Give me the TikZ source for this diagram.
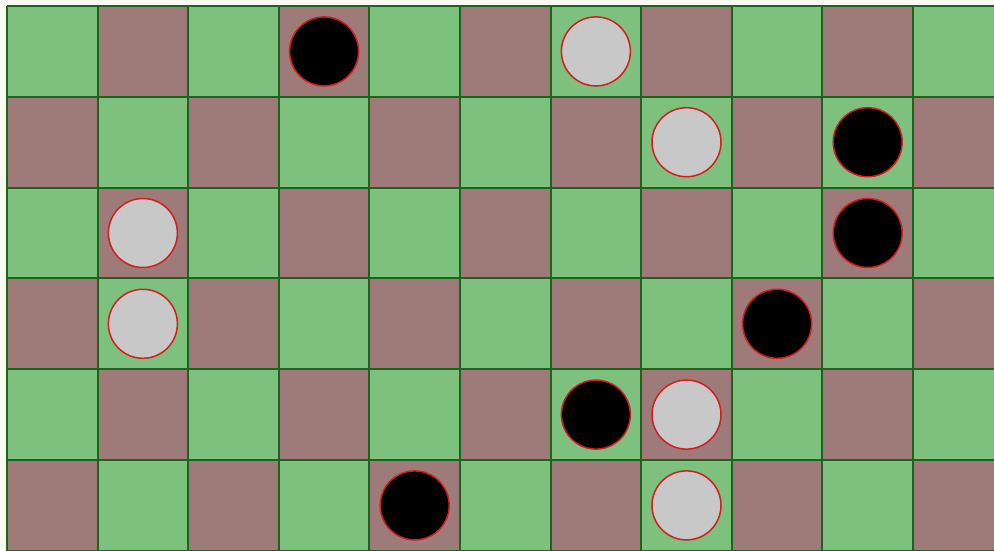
\documentclass[tikz,border=0pt]{standalone}
\definecolor{cellg}{RGB}{126,192,126}
\definecolor{cellb}{RGB}{158,122,120}
\definecolor{gridc}{RGB}{28,100,28}
\definecolor{bgc}{RGB}{250,250,242}
\definecolor{pgray}{RGB}{200,200,200}
\definecolor{pred}{RGB}{210,30,30}
\tikzset{
  blackpiece/.style={circle,fill=black,draw=pred,line width=1.5pt,minimum size=69pt,inner sep=0pt},
  graypiece/.style={circle,fill=pgray,draw=pred,line width=1.5pt,minimum size=69pt,inner sep=0pt},
  gridline/.style={draw=gridc,line width=2pt}
}
\begin{document}
\begin{tikzpicture}[x=1pt,y=-1pt]
\useasboundingbox (0,0) rectangle (994,550);
\fill[bgc] (0,0) rectangle (994,550);
\begin{scope}
\clip (0,0) rectangle (994,550);
\foreach \c in {0,...,10}{
  \foreach \r in {0,...,5}{
    \pgfmathtruncatemacro{\p}{mod(\c+\r,2)}
    \ifnum\p=0
      \fill[cellg] ({7+90.6*\c},{6+90.8*\r}) rectangle ++(90.6,90.8);
    \else
      \fill[cellb] ({7+90.6*\c},{6+90.8*\r}) rectangle ++(90.6,90.8);
    \fi
  }
}
\foreach \c in {0,...,11}{
  \draw[gridline] ({7+90.6*\c},6) -- ({7+90.6*\c},560);
}
\foreach \r in {0,...,6}{
  \draw[gridline] (7,{6+90.8*\r}) -- (1000,{6+90.8*\r});
}
\end{scope}
\newcommand{\cx}[1]{7+90.6*#1+45.3}
\newcommand{\cy}[1]{6+90.8*#1+45.4}
\node[blackpiece] (b1) at ({\cx{3}},{\cy{0}}) {};
\node[graypiece] (g1) at ({\cx{6}},{\cy{0}}) {};
\node[graypiece] (g2) at ({\cx{7}},{\cy{1}}) {};
\node[blackpiece] (b2) at ({\cx{9}},{\cy{1}}) {};
\node[graypiece] (g3) at ({\cx{1}},{\cy{2}}) {};
\node[blackpiece] (b3) at ({\cx{9}},{\cy{2}}) {};
\node[graypiece] (g4) at ({\cx{1}},{\cy{3}}) {};
\node[blackpiece] (b4) at ({\cx{8}},{\cy{3}}) {};
\node[blackpiece] (b5) at ({\cx{6}},{\cy{4}}) {};
\node[graypiece] (g5) at ({\cx{7}},{\cy{4}}) {};
\node[blackpiece] (b6) at ({\cx{4}},{\cy{5}}) {};
\node[graypiece] (g6) at ({\cx{7}},{\cy{5}}) {};
\end{tikzpicture}
\end{document}
